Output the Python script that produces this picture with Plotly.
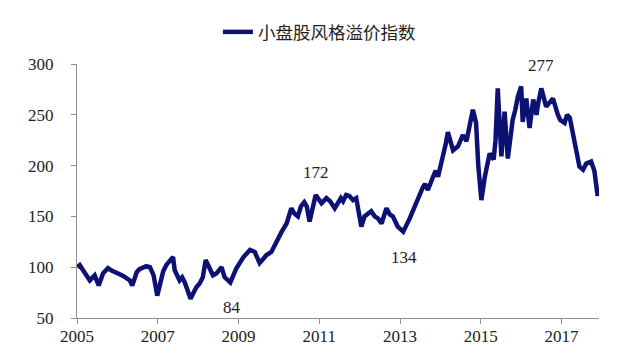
import plotly.graph_objects as go

dates = [
    "2005-01-04", "2005-01-26", "2005-02-25", "2005-04-27", "2005-06-10", "2005-07-16",
    "2005-08-25", "2005-10-08", "2005-11-05", "2005-12-06", "2006-02-10", "2006-03-15",
    "2006-04-24", "2006-05-16", "2006-06-25", "2006-07-20", "2006-08-22", "2006-09-20",
    "2006-10-23", "2006-11-25", "2006-12-28", "2007-01-25", "2007-02-20", "2007-03-19",
    "2007-05-20", "2007-06-04", "2007-07-18", "2007-08-10", "2007-09-03", "2007-10-25",
    "2007-12-15", "2008-01-15", "2008-02-13", "2008-03-10", "2008-04-16", "2008-05-15",
    "2008-06-17", "2008-07-31", "2008-08-29", "2008-10-19", "2008-12-13", "2009-01-10",
    "2009-02-15", "2009-04-15", "2009-05-28", "2009-07-11", "2009-08-10", "2009-09-11",
    "2009-10-25", "2009-12-08", "2010-01-27", "2010-03-12", "2010-04-24", "2010-05-20",
    "2010-06-22", "2010-07-20", "2010-08-19", "2010-09-10", "2010-10-06", "2010-11-30",
    "2010-12-25", "2011-01-22", "2011-03-07", "2011-04-10", "2011-05-22", "2011-06-15",
    "2011-07-16", "2011-08-05", "2011-09-02", "2011-10-01", "2011-11-03", "2011-12-02",
    "2012-01-17", "2012-02-15", "2012-03-19", "2012-04-15", "2012-05-17", "2012-06-15",
    "2012-07-18", "2012-08-31", "2012-09-30", "2012-10-28", "2012-12-11", "2013-01-30",
    "2013-03-30", "2013-04-25", "2013-05-31", "2013-06-25", "2013-07-28", "2013-08-15",
    "2013-09-10", "2013-10-27", "2013-11-20", "2013-12-11", "2014-01-26", "2014-02-20",
    "2014-03-10", "2014-04-26", "2014-06-09", "2014-07-23", "2014-08-25", "2014-09-25",
    "2014-10-22", "2014-11-20", "2014-12-10", "2015-01-07", "2015-02-07", "2015-03-23",
    "2015-04-28", "2015-05-15", "2015-06-04", "2015-07-07", "2015-08-05", "2015-09-03",
    "2015-10-17", "2015-11-10", "2015-12-03", "2016-01-02", "2016-01-16", "2016-02-17",
    "2016-03-18", "2016-04-20", "2016-05-19", "2016-06-05", "2016-07-02", "2016-08-15",
    "2016-09-10", "2016-10-16", "2016-11-29", "2016-12-20", "2017-01-29", "2017-02-20",
    "2017-03-17", "2017-04-29", "2017-05-25", "2017-06-12", "2017-07-15", "2017-08-13",
    "2017-09-26", "2017-10-25", "2017-11-24",
]
values = [
    100, 102, 97, 87, 92, 82,
    94, 99, 97, 95, 92, 90,
    87, 82, 95, 98, 100, 101,
    100, 92, 72, 85, 96, 102,
    110, 97, 87, 90, 85, 69,
    80, 84, 90, 107, 97, 92,
    94, 100, 90, 85, 99, 104,
    110, 117, 115, 104, 108, 112,
    115, 125, 135, 143, 158, 153,
    150, 160, 164, 160, 145, 171,
    167, 163, 168, 165, 158, 162,
    168, 165, 171, 170, 166, 168,
    140, 150, 153, 155, 150, 148,
    143, 158, 152, 150, 140, 135,
    148, 155, 163, 170, 179, 182,
    176, 189, 195, 189, 209, 222,
    233, 215, 219, 230, 224, 240,
    255, 242, 200, 166, 189, 212,
    206, 225, 276, 209, 253, 207,
    245, 255, 268, 278, 243, 266,
    237, 265, 250, 262, 276, 258,
    262, 266, 250, 245, 242, 250,
    247, 224, 210, 199, 196, 202,
    204, 195, 170,
]

series_name = "小盘股风格溢价指数"
y_ticks = [50, 100, 150, 200, 250, 300]
x_ticks = ["2005-01-01", "2007-01-01", "2009-01-01", "2011-01-01",
           "2013-01-01", "2015-01-01", "2017-01-01"]
x_tick_labels = ["2005", "2007", "2009", "2011", "2013", "2015", "2017"]

label_texts = ["84", "172", "134", "277", "170"]
label_dates = ["2008-11-02", "2010-12-01", "2013-02-06", "2016-06-28", "2017-12-13"]
label_values = [60.5, 193.7, 110, 299, 145.4]

navy = "#0c1173"
axis_gray = "#8f8f8f"
serif = "Times New Roman, Liberation Serif, serif"

fig = go.Figure()
fig.add_trace(go.Scatter(
    x=dates, y=values, mode="lines", name=series_name,
    line=dict(color=navy, width=4.5, shape="linear"),
))

for t, d, v in zip(label_texts, label_dates, label_values):
    fig.add_annotation(x=d, y=v, text=t, showarrow=False,
                       font=dict(family=serif, size=17, color="#222222"),
                       xanchor="center", yanchor="middle")

# the page body keeps an 8px default margin, so the figure is sized to fit inside it
fig.update_layout(
    width=627, height=351,
    margin=dict(l=69, r=36, t=56, b=41, autoexpand=False),
    paper_bgcolor="white", plot_bgcolor="white",
    showlegend=True,
    legend=dict(orientation="h", x=0.27, xanchor="left", y=1.126, yanchor="middle",
                font=dict(family="Noto Sans CJK SC", size=17.5, color="#222222"),
                itemwidth=30, bgcolor="rgba(0,0,0,0)"),
    xaxis=dict(
        type="date", range=["2005-01-01", "2017-12-06"],
        tickvals=x_ticks, ticktext=x_tick_labels,
        showgrid=False, zeroline=False,
        showline=True, linecolor=axis_gray, linewidth=1,
        ticks="outside", ticklen=5, tickcolor=axis_gray,
        tickfont=dict(family=serif, size=17, color="#222222"),
        ticklabelstandoff=-2,
    ),
    yaxis=dict(
        range=[50, 300], tickvals=y_ticks,
        showgrid=False, zeroline=False,
        showline=True, linecolor=axis_gray, linewidth=1,
        ticks="outside", ticklen=5, tickcolor=axis_gray,
        tickfont=dict(family=serif, size=17, color="#222222"),
        ticklabelstandoff=14,
    ),
)

fig.write_html("out.html")
